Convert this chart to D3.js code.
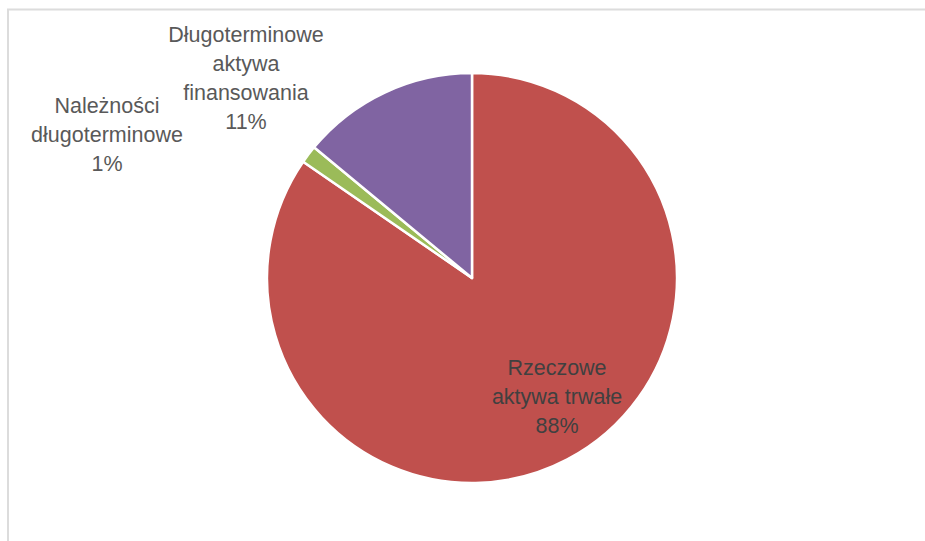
<!DOCTYPE html>
<html><head><meta charset="utf-8">
<script src="https://cdn.jsdelivr.net/npm/d3@7/dist/d3.min.js"></script>
<style>html,body{margin:0;padding:0;background:#fff;overflow:hidden}</style>
</head><body>
<svg id="c" width="925" height="541"></svg>
<script>
const categories = ["Rzeczowe aktywa trwałe", "Należności długoterminowe", "Długoterminowe aktywa finansowania"];
const values = [84.6, 1.4, 14.0];
const percentLabels = ["88%", "1%", "11%"];
const labelLines = [["Rzeczowe", "aktywa trwałe"], ["Należności", "długoterminowe"], ["Długoterminowe", "aktywa", "finansowania"]];
const colors = ["#C0504D", "#9BBB59", "#8064A2"];

const svg = d3.select("#c");
svg.append("rect").attr("x", 8).attr("y", 9.5).attr("width", 1000).attr("height", 1000)
  .attr("fill", "none").attr("stroke", "#DCDCDC").attr("stroke-width", 2);

const cx = 472, cy = 278, r = 205;
const pie = d3.pie().sort(null).value(d => d)(values);
const arc = d3.arc().innerRadius(0).outerRadius(r);
const g = svg.append("g").attr("transform", `translate(${cx},${cy})`);
g.selectAll("path").data(pie).join("path")
  .attr("d", arc).attr("fill", (d, i) => colors[i])
  .attr("stroke", "#fff").attr("stroke-width", 2.5).attr("stroke-linejoin", "round");

const labelPos = [[557, 375], [107, 113], [246, 42]];
const textColors = ["#404040", "#595959", "#595959"];
const lh = 29;
categories.forEach((c, i) => {
  const lines = labelLines[i].concat([percentLabels[i]]);
  const t = svg.append("text").attr("text-anchor", "middle")
    .attr("font-family", "'Liberation Sans', Arial, sans-serif").attr("font-size", 21.5)
    .attr("fill", textColors[i]);
  lines.forEach((l, k) => {
    t.append("tspan").attr("x", labelPos[i][0]).attr("y", labelPos[i][1] + k * lh).text(l);
  });
});
</script>
</body></html>
